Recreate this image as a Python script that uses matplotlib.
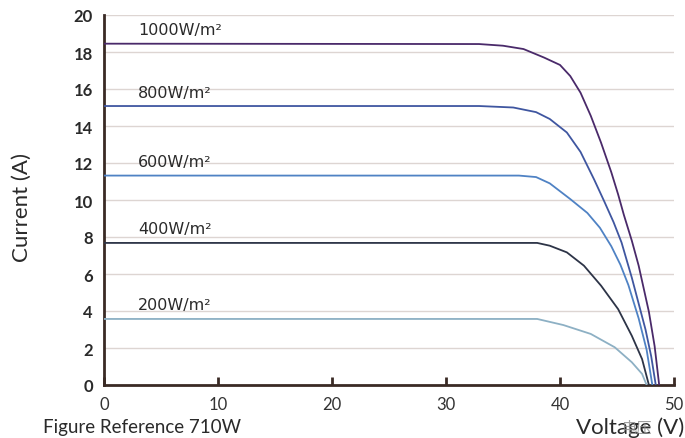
import numpy as np
import matplotlib.pyplot as plt

# I-V curves (voltage in V, current in A)
v_1000 = [0, 32.9, 35.0, 36.8, 38.6, 40.0, 40.9, 41.8, 42.7, 43.6, 44.5, 45.1, 45.6, 46.3, 46.9, 47.8, 48.3, 48.7]
i_1000 = [18.45, 18.43, 18.34, 18.16, 17.7, 17.3, 16.7, 15.8, 14.55, 13.1, 11.5, 10.3, 9.2, 7.8, 6.45, 3.95, 2.1, 0]

v_800 = [0, 32.9, 35.9, 37.9, 39.1, 40.6, 41.8, 43.0, 43.9, 44.7, 45.4, 46.3, 47.5, 48.0, 48.4]
i_800 = [15.08, 15.08, 15.0, 14.75, 14.38, 13.65, 12.6, 11.1, 9.9, 8.8, 7.7, 5.8, 3.0, 1.55, 0]

v_600 = [0, 36.4, 37.9, 39.1, 40.9, 42.4, 43.5, 44.5, 45.3, 46.0, 46.9, 47.6, 48.1]
i_600 = [11.32, 11.32, 11.24, 10.9, 10.05, 9.3, 8.5, 7.5, 6.5, 5.4, 3.6, 1.9, 0]

v_400 = [0, 38.0, 39.1, 40.6, 42.1, 43.6, 45.1, 46.3, 47.2, 47.8]
i_400 = [7.68, 7.68, 7.53, 7.17, 6.45, 5.37, 4.1, 2.66, 1.4, 0]

v_200 = [0, 38.0, 40.3, 42.7, 44.8, 46.3, 47.2, 47.6]
i_200 = [3.57, 3.57, 3.24, 2.76, 2.04, 1.23, 0.6, 0]

labels = ["1000W/m²", "800W/m²", "600W/m²", "400W/m²", "200W/m²"]
label_x = 3.0
x_ticks = [0, 10, 20, 30, 40, 50]
y_ticks = [0, 2, 4, 6, 8, 10, 12, 14, 16, 18, 20]

colors = ["#4a2a6a", "#3f56a0", "#4f82c4", "#2d3447", "#8db0c4"]
axis_col = "#3a2a25"
text_col = "#2a2a2a"

plt.rcParams['font.family'] = ['Lato', 'DejaVu Sans']

fig = plt.figure(figsize=(6.85, 4.39), dpi=100)
ax = fig.add_axes([104/685, 1 - 386/439, 570/685, 370/439])

series = [(v_1000, i_1000), (v_800, i_800), (v_600, i_600), (v_400, i_400), (v_200, i_200)]
for (v, i), lab, c in zip(series, labels, colors):
    ax.plot(v, i, color=c, lw=1.3, solid_joinstyle='round', zorder=3)
    ax.text(label_x, i[0] + 0.35, lab, fontsize=11.5, color=text_col,
            family='DejaVu Sans', va='bottom', ha='left')

ax.set_xlim(0, 50)
ax.set_ylim(0, 20)
ax.set_xticks(x_ticks)
ax.set_yticks(y_ticks)
for y in y_ticks[1:]:
    ax.axhline(y, color="#ddd5d2", lw=1.0, zorder=1)

for s in ['top', 'right']:
    ax.spines[s].set_visible(False)
for s in ['left', 'bottom']:
    ax.spines[s].set_color(axis_col)
    ax.spines[s].set_linewidth(2)

ax.tick_params(axis='x', direction='in', length=6, width=2, color=axis_col,
               labelsize=12, labelcolor="#333333", pad=8)
ax.tick_params(axis='y', length=0, labelsize=12, labelcolor=text_col, pad=8)
for t in ax.get_yticklabels():
    t.set_fontweight('bold')

fig.text(22/685, 1 - 208/439, "Current (A)", rotation=90, fontsize=16,
         color=text_col, ha='center', va='center')
fig.text(43/685, 1 - 428/439, "Figure Reference 710W", fontsize=13.5,
         color=text_col, ha='left', va='center')
fig.text(684/685, 1 - 428/439, "Voltage (V)", fontsize=16,
         color=text_col, ha='right', va='center')
# stray overlapped characters in the reference label
fig.text(636/685, 1 - 428/439, "电压", fontsize=11, family=['Noto Sans CJK SC'],
         color="#8a8a8a", alpha=0.8, ha='center', va='center')

fig.savefig("out.png", dpi=100)
